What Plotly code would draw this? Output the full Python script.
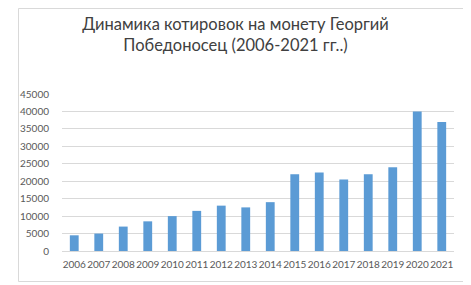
import plotly.graph_objects as go

years = ["2006", "2007", "2008", "2009", "2010", "2011", "2012", "2013",
         "2014", "2015", "2016", "2017", "2018", "2019", "2020", "2021"]
prices = [4500, 5000, 7000, 8500, 10000, 11500, 13000, 12500,
          14000, 22000, 22500, 20500, 22000, 24000, 40000, 37000]
y_ticks = [0, 5000, 10000, 15000, 20000, 25000, 30000, 35000, 40000, 45000]
y_tick_labels = [str(v) for v in y_ticks]
title_text = "Динамика котировок на монету Георгий<br>Победоносец (2006-2021 гг..)"

# page body has an 8px margin, so the figure is sized to the remaining space
W, H = 463, 277
L, R, T, B = 45, 17, 86, 34

fig = go.Figure(go.Bar(x=years, y=prices, marker_color="#5B9BD5",
                       marker_line_width=0))

pw = W - L - R
ph = H - T - B
fig.add_shape(type="rect", xref="paper", yref="paper",
              x0=(0.5 - L) / pw, x1=(W - 5.5 - L) / pw,
              y0=-(H - 3.5 - (H - B)) / ph, y1=1 + (T - 0.5) / ph,
              line=dict(color="#D9D9D9", width=1), fillcolor="rgba(0,0,0,0)",
              layer="below")

fig.update_layout(
    width=W, height=H,
    margin=dict(l=L, r=R, t=T, b=B),
    paper_bgcolor="white", plot_bgcolor="white",
    bargap=0.64,
    showlegend=False,
    font=dict(family="Lato, Open Sans, sans-serif", color="#595959", size=10),
    title=dict(text=title_text, x=227.5 / W, xanchor="center", xref="container",
               y=1 - 22 / H, yanchor="middle",
               font=dict(size=16.5, color="#404040", family="Lato, Open Sans, sans-serif")),
)
fig.update_xaxes(showgrid=False, showline=True, linecolor="#D9D9D9",
                 ticks="", tickangle=0, ticklabelstandoff=4,
                 tickfont=dict(size=10, color="#595959"))
fig.update_yaxes(range=[0, 45000], tickvals=y_ticks, ticktext=y_tick_labels,
                 showgrid=True, gridcolor="#D9D9D9", zeroline=False,
                 showline=False, ticks="", ticklabelstandoff=12,
                 tickfont=dict(size=10, color="#595959"))

fig.write_html("out.html")
